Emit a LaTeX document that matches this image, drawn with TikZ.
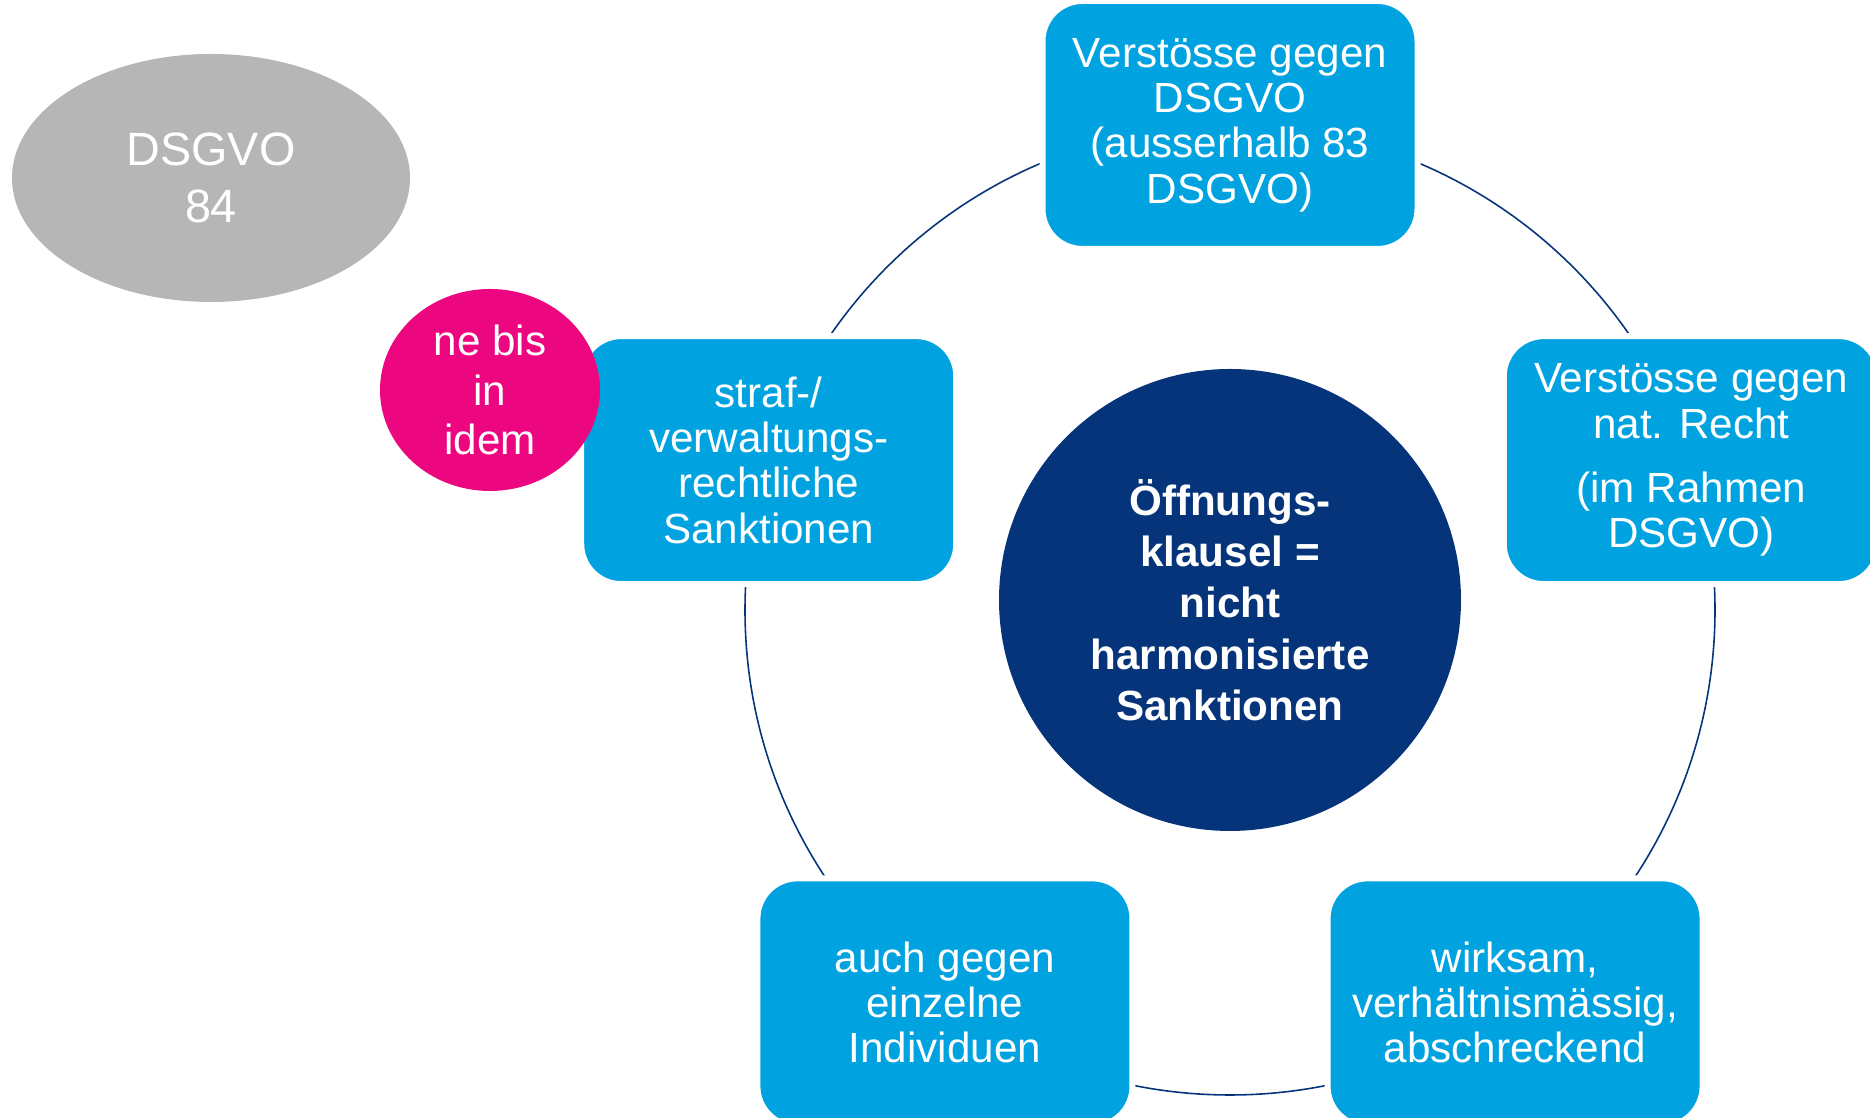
\documentclass[tikz,border=0pt]{standalone}
\usepackage{fontspec}
\setmainfont{Liberation Sans}
\usepackage{xcolor}
\usetikzlibrary{shapes, positioning, calc}

\definecolor{boxblue}{HTML}{00A3E0}
\definecolor{hubblue}{HTML}{06347A}
\definecolor{nebispink}{HTML}{EC0680}
\definecolor{notegray}{HTML}{B6B6B6}

\begin{document}
\begin{tikzpicture}
        \path[use as bounding box, clip] (0,0) rectangle (18.70,11.18);
        \coordinate (ring) at (12.30,5.08);
        \draw[hubblue, line width=0.45pt] (ring) circle (4.85);
        \begin{scope}[every node/.style={fill=boxblue,draw=white,line width=0.6mm,rounded corners=4mm,
            minimum width=3.75cm,minimum height=2.48cm,inner sep=0pt,align=center,text=white,
            font=\fontsize{12}{12.9}\selectfont}]
          \node (dsgvo) at ($(ring)+(90:4.85)$) {Verstösse gegen\\DSGVO\\(ausserhalb 83\\DSGVO)};
          \node (natrecht) at ($(ring)+(18:4.85)$) {Verstösse gegen\\nat. Recht\\[5.4pt](im Rahmen\\DSGVO)};
          \node (wirksam) at ($(ring)+(306:4.85)$) {wirksam,\\verhältnismässig,\\abschreckend};
          \node (individuen) at ($(ring)+(234:4.85)$) {auch gegen\\einzelne\\Individuen};
          \node (straf) at ($(ring)+(162:4.85)$) {straf-/\\verwaltungs-\\rechtliche\\Sanktionen};
        \end{scope}
        \begin{scope}[every node/.style={inner sep=0pt,align=center,text=white}]
          \node[circle,fill=hubblue,minimum size=4.62cm,font=\bfseries\fontsize{12}{14.6}\selectfont]
            (klausel) at (12.30,5.18) {Öffnungs-\\klausel =\\nicht\\harmonisierte\\Sanktionen};
          \node[ellipse,fill=nebispink,minimum width=2.20cm,minimum height=2.02cm,
            font=\fontsize{12}{14.2}\selectfont] (nebis) at (4.90,7.28) {ne bis\\in\\idem};
          \node[ellipse,fill=notegray,minimum width=3.98cm,minimum height=2.48cm,
            font=\fontsize{13.3}{16.2}\selectfont] (art84) at (2.11,9.40) {DSGVO\\84};
        \end{scope}
      \end{tikzpicture}
\end{document}
